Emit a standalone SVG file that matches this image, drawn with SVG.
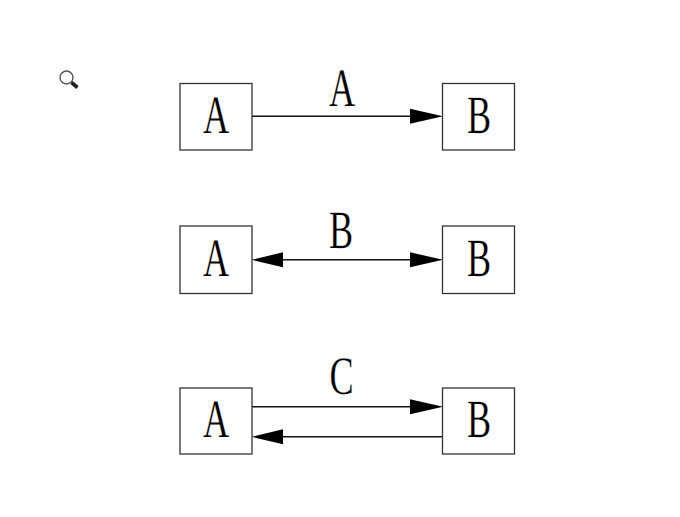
<svg xmlns="http://www.w3.org/2000/svg" width="680" height="517" viewBox="0 0 680 517">
<style>
.box{fill:#fff;stroke:#333;stroke-width:1.3}
.line{fill:none;stroke:#111;stroke-width:1.4}
.head{fill:#000;stroke:none}
text{font-family:"Liberation Serif","Times New Roman",serif;font-size:54px;fill:#000;text-anchor:middle;text-rendering:geometricPrecision;stroke:#fff;stroke-width:.25}
</style>
<rect width="680" height="517" fill="#fff"/>
<g id="magnifier">
<circle cx="66.500" cy="77.500" r="6.500" fill="#fff" stroke="#555" stroke-width="1.4"/>
<line x1="71.500" y1="82.500" x2="77.500" y2="87.500" stroke="#222" stroke-width="3.6"/>
</g>
<g id="connectors">
<line class="line" x1="252" y1="116.300" x2="420" y2="116.300"/>
<polygon class="head" points="443,116.300 410,108.800 410,123.800"/>
<line class="line" x1="280" y1="259.800" x2="415" y2="259.800"/>
<polygon class="head" points="251.500,259.800 283,252.300 283,267.300"/>
<polygon class="head" points="443,259.800 410,252.300 410,267.300"/>
<line class="line" x1="252" y1="406.800" x2="420" y2="406.800"/>
<polygon class="head" points="443,406.800 410,399.300 410,414.300"/>
<line class="line" x1="280" y1="436.800" x2="442" y2="436.800"/>
<polygon class="head" points="251.500,436.800 283,429.300 283,444.300"/>
</g>
<g id="label-a"><text transform="translate(342 106) scale(.67 1)">A</text></g>
<g id="label-b"><text transform="translate(341 248) scale(.67 1)">B</text></g>
<g id="label-c"><text transform="translate(341.500 394) scale(.67 1)">C</text></g>
<g id="node-a1"><rect class="box" x="180" y="83.500" width="72" height="66.500"/><text transform="translate(216 133) scale(.67 1)">A</text></g>
<g id="node-b1"><rect class="box" x="442.500" y="83.500" width="72" height="66.500"/><text transform="translate(479 133) scale(.67 1)">B</text></g>
<g id="node-a2"><rect class="box" x="180" y="226" width="72" height="67.500"/><text transform="translate(216 276) scale(.67 1)">A</text></g>
<g id="node-b2"><rect class="box" x="442.500" y="226" width="72" height="67.500"/><text transform="translate(479 276) scale(.67 1)">B</text></g>
<g id="node-a3"><rect class="box" x="180" y="388" width="72" height="66"/><text transform="translate(216 437) scale(.67 1)">A</text></g>
<g id="node-b3"><rect class="box" x="442.500" y="388" width="72" height="66"/><text transform="translate(479 437) scale(.67 1)">B</text></g>
</svg>
